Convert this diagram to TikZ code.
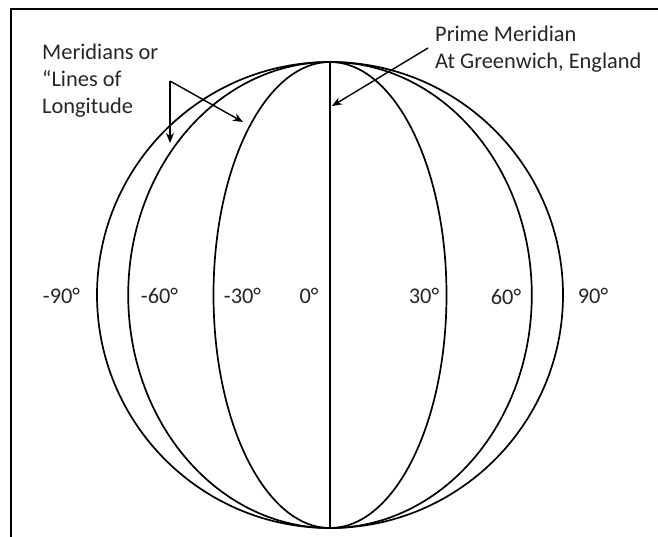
\documentclass[tikz,border=0pt]{standalone}
\usepackage{fontspec}
\setmainfont{Carlito}
\usetikzlibrary{arrows.meta}
\begin{document}
\begin{tikzpicture}[x=1pt,y=-1pt,
  meridian/.style={line width=1.7pt},
  lbl/.style={inner sep=0pt, anchor=base, font=\fontsize{22.4}{27}\selectfont, text=black!85},
  note/.style={inner sep=0pt, anchor=north west, align=left, font=\fontsize{22.4}{27}\selectfont, text=black!85},
  pointer/.style={line width=1.4pt, -{Stealth[length=10pt,width=8pt]}},
  frameline/.style={line width=1.2pt}]
\useasboundingbox (0,0) rectangle (658,537);
\draw[frameline] (658,9) -- (11,9) -- (11,537);
% globe geometry: centre (330,295), radius 233
\coordinate (N) at (330,62);
\coordinate (S) at (330,528);
% western meridians
\draw[meridian] (N) arc[start angle=270, end angle=90, x radius=233, y radius=233];
\draw[meridian] (N) arc[start angle=270, end angle=90, x radius=201.8, y radius=233];
\draw[meridian] (N) arc[start angle=270, end angle=90, x radius=116.5, y radius=233];
% eastern meridians
\draw[meridian] (N) arc[start angle=-90, end angle=90, x radius=233, y radius=233];
\draw[meridian] (N) arc[start angle=-90, end angle=90, x radius=201.8, y radius=233];
\draw[meridian] (N) arc[start angle=-90, end angle=90, x radius=116.5, y radius=233];
% prime meridian
\draw[line width=1.4pt] (N) -- (S);
% degree labels
\node[lbl] (w90) at (61.5,303) {-90°};
\node[lbl] (w60) at (159.5,303) {-60°};
\node[lbl] (w30) at (242.5,303) {-30°};
\node[lbl] (z0) at (309,303) {0°};
\node[lbl] (e30) at (424,303) {30°};
\node[lbl] (e60) at (506,304) {60°};
\node[lbl] (e90) at (593,303) {90°};
% notes
\node[note] (mer) at (42,44) {Meridians or\\“Lines of\\Longitude};
\node[note] (pm) at (435,26) {Prime Meridian\\At Greenwich, England};
% pointers
\coordinate (pmstart) at (428,48);
\coordinate (pmtip) at (332,106);
\draw[pointer] (pmstart) -- (pmtip);
\coordinate (apex) at (170,81);
\coordinate (tipA) at (170,143);
\coordinate (tipB) at (243,122);
\draw[pointer] (apex) -- (tipA);
\draw[pointer] (apex) -- (tipB);
\end{tikzpicture}
\end{document}
